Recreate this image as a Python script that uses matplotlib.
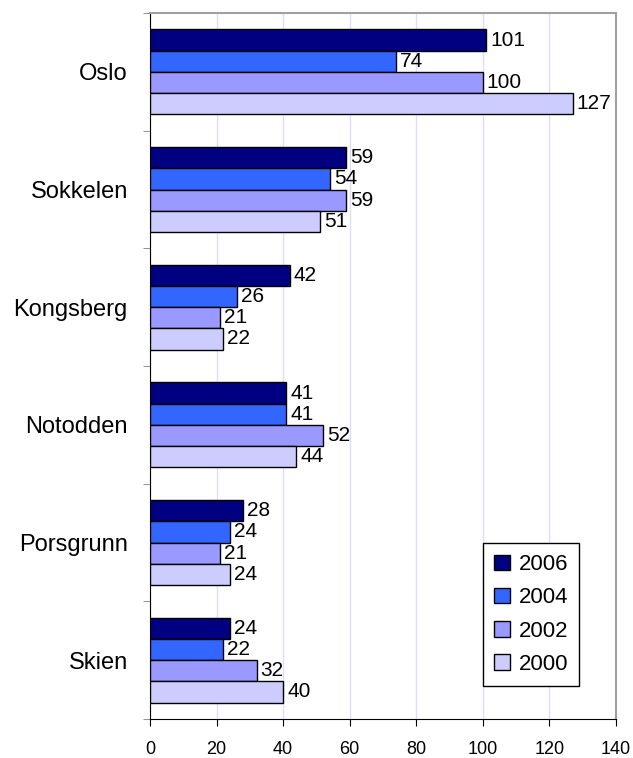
import numpy as np
import matplotlib
matplotlib.use("Agg")
import matplotlib.pyplot as plt

# Data
places = ['Oslo', 'Sokkelen', 'Kongsberg', 'Notodden', 'Porsgrunn', 'Skien']
years = ['2006', '2004', '2002', '2000']
v2006 = [101, 59, 42, 41, 28, 24]
v2004 = [74, 54, 26, 41, 24, 22]
v2002 = [100, 59, 21, 52, 21, 32]
v2000 = [127, 51, 22, 44, 24, 40]
series = [v2006, v2004, v2002, v2000]
colors = ['#000080', '#3366ff', '#9999ff', '#ccccff']

plt.rcParams['font.family'] = ['Liberation Sans', 'DejaVu Sans']

fig = plt.figure(figsize=(6.33, 7.58), dpi=100)
ax = fig.add_axes([150 / 633, 1 - 719 / 758, 466 / 633, 706 / 758])

n = len(places)
y = np.arange(n)
h = 0.18
for i, (vals, col, yr) in enumerate(zip(series, colors, years)):
    pos = y - 1.5 * h + i * h
    bars = ax.barh(pos, vals, height=h, color=col, edgecolor='black',
                   linewidth=1, label=yr, zorder=3)
    for b, v in zip(bars, vals):
        ax.text(v + 1.2, b.get_y() + h / 2, str(v), va='center', ha='left',
                fontsize=15, zorder=4)

ax.set_xlim(0, 140)
ax.set_ylim(n - 0.5, -0.5)
ax.set_xticks(range(0, 141, 20))
ax.set_yticks(y)
ax.set_yticklabels(places, fontsize=17)
ax.set_yticks(np.arange(-0.5, n, 1), minor=True)
ax.tick_params(axis='y', which='major', length=0, pad=16)
ax.tick_params(axis='y', which='minor', length=5, color='#808080')
ax.tick_params(axis='x', labelsize=13, length=5, pad=11)

ax.xaxis.grid(True, color='#ddddff', linewidth=1, zorder=0)
ax.spines['top'].set_color('#a0a0a0')
ax.spines['right'].set_color('#a0a0a0')
ax.spines['right'].set_linewidth(1.5)
ax.spines['top'].set_linewidth(1.5)

leg = ax.legend(loc='upper left', bbox_to_anchor=(333 / 466, 1 - 530 / 706),
                fontsize=16, handlelength=0.7, handleheight=0.7,
                handletextpad=0.4, labelspacing=0.55, fancybox=False,
                edgecolor='black', framealpha=1, borderpad=0.5,
                borderaxespad=0)
leg.get_frame().set_linewidth(1)

fig.savefig('out.png', dpi=100)
